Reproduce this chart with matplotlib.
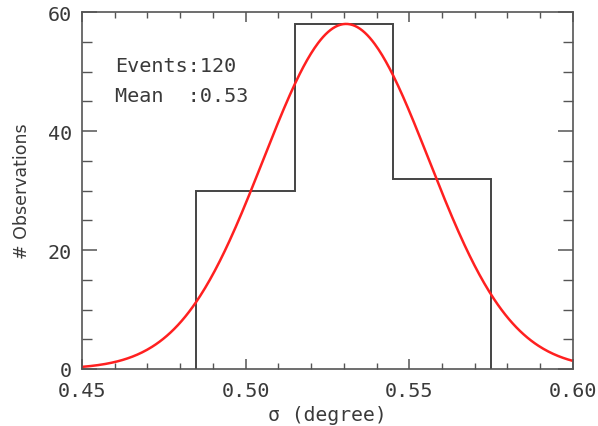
import numpy as np
import matplotlib
matplotlib.use("Agg")
import matplotlib.pyplot as plt
from matplotlib.ticker import MultipleLocator, FormatStrFormatter

# Histogram of sigma values
bin_edges = [0.485, 0.515, 0.545, 0.575]
counts = [30, 58, 32]

# Gaussian fit parameters
fit_amplitude = 58.0
fit_mean = 0.5307
fit_sigma = 0.0253

n_events = 120
mean_value = 0.53

ink = "#3a3a3a"
mono = ["DejaVu Sans Mono"]
plt.rcParams["font.family"] = ["DejaVu Sans"]

fig = plt.figure(figsize=(5.98, 4.27), dpi=100)
ax = fig.add_axes([0.137, 0.1335, 0.821, 0.836])

# step outline of the histogram, dropping to zero at the outer edges
xs = [bin_edges[0]]
ys = [0]
for i, c in enumerate(counts):
    xs += [bin_edges[i], bin_edges[i + 1]]
    ys += [c, c]
xs += [bin_edges[-1]]
ys += [0]
ax.plot(xs, ys, color="#444444", lw=1.4, solid_joinstyle="miter")

xf = np.linspace(0.45, 0.60, 400)
yf = fit_amplitude * np.exp(-0.5 * ((xf - fit_mean) / fit_sigma) ** 2)
ax.plot(xf, yf, color="#ff2020", lw=1.8)

ax.set_xlim(0.45, 0.60)
ax.set_ylim(0, 60)
ax.xaxis.set_major_locator(MultipleLocator(0.05))
ax.xaxis.set_minor_locator(MultipleLocator(0.01))
ax.yaxis.set_major_locator(MultipleLocator(20))
ax.yaxis.set_minor_locator(MultipleLocator(5))
ax.xaxis.set_major_formatter(FormatStrFormatter("%.2f"))

for s in ax.spines.values():
    s.set_color("#555555")
    s.set_linewidth(1.2)

ax.tick_params(axis="both", which="both", direction="in", top=True, right=True,
               color="#555555", labelcolor=ink, labelsize=14.5)
ax.tick_params(axis="x", which="major", length=7, width=1.1, pad=9)
ax.tick_params(axis="x", which="minor", length=4, width=1.0)
ax.tick_params(axis="y", which="major", length=11, width=1.1, pad=7)
ax.tick_params(axis="y", which="minor", length=7, width=1.0)
for lab in ax.get_xticklabels() + ax.get_yticklabels():
    lab.set_family(mono)

ax.set_xlabel("σ (degree)", fontsize=14.2, color=ink, labelpad=3, family=mono)
ax.set_ylabel("# Observations", fontsize=12.5, color=ink, labelpad=12)

ax.text(0.067, 0.849, f"Events:{n_events}", transform=ax.transAxes,
        fontsize=14.5, color=ink, va="center", ha="left", family=mono)
ax.text(0.067, 0.765, f"Mean  :{mean_value:.2f}", transform=ax.transAxes,
        fontsize=14.5, color=ink, va="center", ha="left", family=mono)

fig.savefig("out.png", dpi=100)
